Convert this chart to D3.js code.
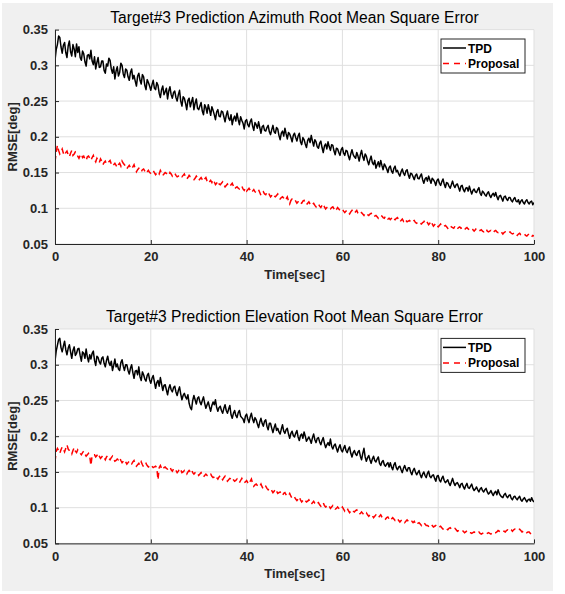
<!DOCTYPE html>
<html><head><meta charset="utf-8">
<script src="https://cdn.jsdelivr.net/npm/d3@7"></script>
<style>body{margin:0;background:#fff}svg{display:block}text{font-family:"Liberation Sans",Arial,sans-serif}</style>
</head><body><svg id="c" width="565" height="594"></svg>
<script>
const xTicks = [0, 20, 40, 60, 80, 100];
const xTickLabels = ["0", "20", "40", "60", "80", "100"];
const yTicks = [0.05, 0.1, 0.15, 0.2, 0.25, 0.3, 0.35];
const yTickLabels = ["0.05", "0.1", "0.15", "0.2", "0.25", "0.3", "0.35"];
const titles = ["Target#3 Prediction Azimuth Root Mean Square Error", "Target#3 Prediction Elevation Root Mean Square Error"];
const seriesNames = ["TPD", "Proposal"];
const xLabel = "Time[sec]";
const yLabel = "RMSE[deg]";

// sampled every 0.25 s, 0..100 s (one row = 5 s)
const azTPD = [
0.307,0.322,0.329,0.341,0.339,0.326,0.317,0.328,0.332,0.318,0.311,0.327,0.334,0.319,0.313,0.329,0.323,0.312,0.330,0.318,
0.326,0.311,0.307,0.320,0.316,0.305,0.299,0.314,0.315,0.309,0.321,0.306,0.301,0.312,0.295,0.304,0.311,0.297,0.298,0.306,
0.306,0.293,0.289,0.302,0.299,0.310,0.307,0.295,0.289,0.298,0.281,0.292,0.298,0.285,0.290,0.303,0.300,0.288,0.283,0.295,
0.293,0.284,0.279,0.290,0.295,0.281,0.286,0.278,0.271,0.285,0.289,0.279,0.274,0.287,0.284,0.272,0.266,0.280,0.276,0.271,
0.265,0.273,0.279,0.268,0.266,0.276,0.272,0.261,0.255,0.266,0.271,0.259,0.263,0.268,0.253,0.264,0.270,0.259,0.254,0.262,
0.264,0.255,0.250,0.259,0.265,0.250,0.243,0.256,0.254,0.247,0.238,0.251,0.254,0.242,0.249,0.255,0.238,0.247,0.253,0.240,
0.238,0.243,0.248,0.236,0.231,0.245,0.241,0.233,0.245,0.238,0.230,0.242,0.237,0.231,0.224,0.235,0.238,0.229,0.228,0.236,
0.235,0.228,0.221,0.230,0.236,0.226,0.223,0.231,0.217,0.225,0.229,0.222,0.233,0.224,0.217,0.228,0.223,0.219,0.211,0.222,
0.224,0.217,0.214,0.221,0.225,0.215,0.209,0.220,0.217,0.212,0.221,0.213,0.205,0.214,0.216,0.209,0.208,0.213,0.216,0.207,
0.203,0.210,0.216,0.207,0.205,0.213,0.211,0.202,0.196,0.205,0.208,0.201,0.212,0.204,0.197,0.206,0.204,0.199,0.193,0.202,
0.205,0.199,0.194,0.201,0.205,0.193,0.189,0.199,0.196,0.190,0.185,0.195,0.198,0.192,0.202,0.194,0.187,0.196,0.193,0.186,
0.184,0.191,0.194,0.185,0.178,0.187,0.190,0.183,0.193,0.186,0.181,0.189,0.188,0.180,0.175,0.184,0.183,0.178,0.174,0.182,
0.185,0.177,0.174,0.181,0.180,0.173,0.168,0.176,0.182,0.175,0.172,0.170,0.178,0.173,0.166,0.175,0.181,0.172,0.167,0.176,
0.173,0.166,0.161,0.168,0.173,0.164,0.161,0.167,0.156,0.161,0.165,0.158,0.167,0.160,0.154,0.162,0.159,0.155,0.150,0.157,
0.159,0.152,0.149,0.156,0.159,0.151,0.153,0.148,0.145,0.151,0.155,0.149,0.146,0.152,0.154,0.147,0.142,0.149,0.148,0.144,
0.140,0.146,0.148,0.142,0.141,0.145,0.148,0.140,0.135,0.141,0.143,0.138,0.145,0.140,0.135,0.142,0.140,0.137,0.132,0.139,
0.141,0.135,0.132,0.137,0.141,0.134,0.129,0.136,0.135,0.131,0.128,0.133,0.138,0.132,0.129,0.133,0.134,0.129,0.124,0.131,
0.132,0.126,0.123,0.128,0.129,0.124,0.131,0.125,0.120,0.125,0.127,0.123,0.122,0.126,0.129,0.121,0.118,0.124,0.122,0.119,
0.117,0.121,0.123,0.118,0.115,0.119,0.121,0.117,0.122,0.116,0.112,0.117,0.118,0.114,0.110,0.116,0.117,0.113,0.111,0.115,
0.115,0.111,0.109,0.113,0.115,0.110,0.109,0.112,0.106,0.110,0.112,0.108,0.106,0.110,0.112,0.108,0.106,0.109,0.110,0.105,
0.108];
const azProp = [
0.165,0.178,0.188,0.181,0.176,0.179,0.183,0.177,0.174,0.178,0.180,0.175,0.172,0.177,0.181,0.174,0.176,0.179,0.178,0.173,
0.170,0.174,0.176,0.171,0.173,0.169,0.167,0.172,0.173,0.170,0.167,0.171,0.174,0.168,0.165,0.170,0.167,0.164,0.169,0.166,
0.161,0.164,0.166,0.162,0.163,0.165,0.167,0.162,0.159,0.161,0.163,0.160,0.157,0.161,0.163,0.159,0.166,0.163,0.161,0.158,
0.155,0.158,0.160,0.157,0.155,0.158,0.161,0.155,0.151,0.154,0.156,0.153,0.151,0.154,0.155,0.152,0.149,0.151,0.153,0.150,
0.149,0.151,0.153,0.150,0.147,0.149,0.151,0.148,0.153,0.150,0.146,0.148,0.150,0.149,0.147,0.146,0.150,0.148,0.145,0.147,
0.149,0.146,0.144,0.145,0.147,0.145,0.144,0.146,0.148,0.144,0.141,0.143,0.146,0.144,0.143,0.141,0.140,0.142,0.145,0.143,
0.139,0.141,0.143,0.140,0.138,0.141,0.143,0.138,0.135,0.137,0.139,0.136,0.140,0.137,0.133,0.135,0.138,0.134,0.133,0.135,
0.137,0.133,0.130,0.132,0.134,0.132,0.130,0.133,0.135,0.131,0.127,0.129,0.130,0.128,0.127,0.129,0.131,0.127,0.125,0.128,
0.124,0.126,0.128,0.125,0.122,0.124,0.126,0.123,0.122,0.124,0.126,0.122,0.118,0.121,0.123,0.120,0.119,0.122,0.123,0.119,
0.116,0.118,0.120,0.117,0.116,0.118,0.120,0.116,0.113,0.115,0.116,0.114,0.111,0.113,0.116,0.110,0.106,0.111,0.113,0.112,
0.113,0.110,0.107,0.109,0.111,0.108,0.107,0.110,0.111,0.107,0.105,0.107,0.109,0.106,0.104,0.106,0.107,0.104,0.102,0.105,
0.106,0.103,0.101,0.104,0.106,0.102,0.099,0.101,0.102,0.100,0.099,0.101,0.102,0.099,0.096,0.098,0.101,0.099,0.097,0.098,
0.099,0.096,0.094,0.096,0.097,0.094,0.092,0.095,0.097,0.094,0.093,0.095,0.097,0.093,0.091,0.092,0.094,0.092,0.090,0.093,
0.093,0.091,0.090,0.092,0.093,0.090,0.088,0.089,0.090,0.088,0.086,0.088,0.090,0.089,0.087,0.086,0.089,0.087,0.085,0.086,
0.084,0.086,0.088,0.085,0.084,0.086,0.087,0.083,0.081,0.083,0.085,0.082,0.085,0.083,0.081,0.082,0.083,0.081,0.080,0.082,
0.083,0.080,0.079,0.081,0.081,0.079,0.078,0.080,0.081,0.084,0.083,0.080,0.077,0.079,0.082,0.078,0.075,0.077,0.079,0.076,
0.074,0.076,0.078,0.075,0.074,0.075,0.076,0.074,0.072,0.074,0.076,0.074,0.073,0.072,0.075,0.073,0.071,0.073,0.074,0.072,
0.073,0.071,0.070,0.072,0.073,0.071,0.070,0.071,0.072,0.070,0.068,0.070,0.072,0.070,0.069,0.069,0.070,0.068,0.067,0.069,
0.071,0.068,0.067,0.068,0.069,0.067,0.066,0.068,0.069,0.067,0.066,0.067,0.068,0.066,0.064,0.066,0.067,0.066,0.065,0.066,
0.067,0.065,0.064,0.065,0.066,0.064,0.062,0.064,0.065,0.063,0.063,0.064,0.064,0.062,0.061,0.063,0.064,0.062,0.060,0.062,
0.061];
const elTPD = [
0.305,0.319,0.327,0.335,0.337,0.324,0.318,0.326,0.333,0.321,0.314,0.323,0.328,0.318,0.309,0.320,0.325,0.313,0.316,0.322,
0.323,0.313,0.305,0.318,0.316,0.309,0.322,0.311,0.304,0.314,0.308,0.316,0.319,0.306,0.299,0.312,0.310,0.304,0.301,0.309,
0.311,0.302,0.297,0.306,0.312,0.303,0.299,0.305,0.292,0.299,0.308,0.297,0.301,0.294,0.292,0.303,0.307,0.298,0.292,0.300,
0.300,0.292,0.287,0.295,0.300,0.289,0.281,0.291,0.292,0.286,0.297,0.283,0.278,0.290,0.286,0.280,0.277,0.285,0.288,0.279,
0.274,0.281,0.285,0.276,0.267,0.275,0.278,0.270,0.282,0.273,0.264,0.271,0.272,0.265,0.258,0.267,0.272,0.265,0.262,0.268,
0.270,0.262,0.257,0.264,0.269,0.259,0.251,0.257,0.260,0.255,0.252,0.258,0.246,0.240,0.237,0.250,0.257,0.251,0.245,0.253,
0.255,0.248,0.244,0.250,0.255,0.246,0.239,0.244,0.248,0.241,0.235,0.243,0.248,0.244,0.251,0.240,0.235,0.240,0.242,0.236,
0.232,0.239,0.244,0.236,0.232,0.238,0.243,0.230,0.225,0.232,0.236,0.229,0.226,0.233,0.236,0.228,0.226,0.224,0.219,0.228,
0.231,0.224,0.219,0.227,0.232,0.224,0.219,0.226,0.223,0.217,0.212,0.220,0.225,0.218,0.214,0.221,0.223,0.214,0.209,0.218,
0.218,0.211,0.205,0.212,0.217,0.208,0.211,0.206,0.203,0.210,0.216,0.207,0.204,0.209,0.211,0.203,0.197,0.204,0.207,0.201,
0.199,0.204,0.208,0.199,0.194,0.201,0.203,0.197,0.206,0.200,0.193,0.196,0.199,0.195,0.190,0.198,0.203,0.195,0.191,0.197,
0.198,0.192,0.188,0.194,0.198,0.190,0.184,0.188,0.191,0.187,0.196,0.186,0.182,0.187,0.189,0.183,0.178,0.184,0.188,0.181,
0.178,0.183,0.187,0.180,0.177,0.182,0.185,0.176,0.171,0.177,0.180,0.175,0.173,0.178,0.180,0.172,0.167,0.176,0.183,0.171,
0.165,0.170,0.173,0.167,0.162,0.168,0.172,0.166,0.164,0.168,0.171,0.162,0.159,0.164,0.166,0.160,0.158,0.161,0.163,0.157,
0.163,0.157,0.153,0.160,0.163,0.156,0.153,0.157,0.158,0.153,0.149,0.155,0.159,0.154,0.151,0.156,0.156,0.150,0.146,0.152,
0.155,0.150,0.146,0.149,0.152,0.146,0.142,0.147,0.150,0.145,0.142,0.148,0.151,0.144,0.142,0.145,0.146,0.141,0.137,0.144,
0.145,0.139,0.136,0.141,0.144,0.138,0.135,0.137,0.139,0.134,0.131,0.136,0.141,0.135,0.131,0.134,0.135,0.132,0.128,0.133,
0.134,0.129,0.126,0.131,0.134,0.128,0.127,0.130,0.133,0.127,0.124,0.126,0.129,0.125,0.122,0.126,0.128,0.124,0.122,0.125,
0.127,0.122,0.119,0.121,0.124,0.120,0.117,0.121,0.123,0.118,0.125,0.120,0.117,0.115,0.114,0.118,0.120,0.116,0.114,0.117,
0.118,0.113,0.111,0.115,0.116,0.113,0.111,0.114,0.116,0.111,0.109,0.112,0.114,0.111,0.108,0.111,0.112,0.109,0.114,0.110,
0.108];
const elProp = [
0.164,0.179,0.183,0.180,0.176,0.181,0.185,0.182,0.178,0.183,0.188,0.182,0.180,0.178,0.175,0.180,0.184,0.179,0.177,0.181,
0.179,0.176,0.174,0.177,0.179,0.175,0.172,0.174,0.176,0.172,0.159,0.173,0.174,0.174,0.171,0.173,0.176,0.172,0.169,0.171,
0.173,0.170,0.167,0.171,0.173,0.169,0.167,0.170,0.172,0.168,0.165,0.166,0.168,0.167,0.170,0.166,0.163,0.165,0.167,0.164,
0.161,0.163,0.165,0.162,0.161,0.164,0.166,0.161,0.158,0.160,0.162,0.159,0.164,0.160,0.157,0.160,0.162,0.159,0.157,0.158,
0.160,0.158,0.156,0.157,0.158,0.156,0.139,0.156,0.159,0.155,0.153,0.156,0.157,0.155,0.154,0.156,0.157,0.153,0.151,0.154,
0.155,0.152,0.149,0.151,0.155,0.153,0.149,0.150,0.152,0.149,0.147,0.150,0.152,0.150,0.153,0.149,0.147,0.149,0.150,0.148,
0.145,0.147,0.149,0.146,0.143,0.145,0.147,0.145,0.144,0.146,0.147,0.144,0.142,0.143,0.145,0.142,0.140,0.143,0.145,0.142,
0.139,0.142,0.144,0.140,0.137,0.139,0.141,0.140,0.142,0.139,0.137,0.138,0.140,0.137,0.135,0.138,0.141,0.137,0.135,0.136,
0.138,0.135,0.133,0.137,0.140,0.134,0.130,0.132,0.133,0.131,0.129,0.130,0.133,0.129,0.126,0.128,0.130,0.127,0.125,0.127,
0.127,0.124,0.121,0.123,0.126,0.123,0.120,0.121,0.122,0.119,0.117,0.120,0.121,0.118,0.116,0.117,0.120,0.116,0.113,0.115,
0.115,0.112,0.110,0.112,0.115,0.111,0.108,0.110,0.112,0.110,0.108,0.109,0.111,0.108,0.105,0.107,0.109,0.106,0.104,0.106,
0.107,0.104,0.102,0.105,0.107,0.103,0.101,0.102,0.104,0.102,0.099,0.101,0.103,0.100,0.098,0.099,0.101,0.099,0.097,0.099,
0.101,0.098,0.095,0.097,0.099,0.096,0.093,0.095,0.097,0.095,0.094,0.096,0.097,0.093,0.091,0.092,0.094,0.092,0.090,0.092,
0.093,0.090,0.088,0.090,0.091,0.089,0.086,0.088,0.090,0.088,0.086,0.088,0.090,0.087,0.085,0.086,0.084,0.086,0.087,0.084,
0.082,0.084,0.086,0.084,0.082,0.083,0.085,0.082,0.080,0.082,0.083,0.081,0.079,0.081,0.083,0.081,0.079,0.080,0.081,0.079,
0.081,0.078,0.076,0.078,0.079,0.077,0.075,0.077,0.079,0.077,0.075,0.075,0.074,0.076,0.077,0.075,0.073,0.074,0.075,0.073,
0.072,0.073,0.074,0.072,0.070,0.071,0.072,0.070,0.069,0.071,0.072,0.070,0.069,0.070,0.071,0.069,0.067,0.068,0.069,0.068,
0.068,0.067,0.065,0.066,0.068,0.066,0.065,0.065,0.064,0.065,0.066,0.065,0.064,0.065,0.066,0.064,0.063,0.064,0.065,0.064,
0.063,0.064,0.065,0.064,0.063,0.065,0.066,0.065,0.065,0.066,0.068,0.067,0.066,0.067,0.068,0.067,0.066,0.068,0.069,0.068,
0.070,0.069,0.067,0.069,0.070,0.069,0.068,0.069,0.070,0.068,0.066,0.067,0.068,0.067,0.065,0.066,0.066,0.064,0.062,0.063,
0.062];
const time = azTPD.map((_, i) => i * 0.25);

const AX = "#262626";
const svg = d3.select("#c");
svg.append("rect").attr("x", 2).attr("y", 3).attr("width", 551).attr("height", 588).attr("fill", "#f0f0f0");

function panel(top, title, tpd, prop, id) {
  const x = d3.scaleLinear().domain([0, 100]).range([55, 534]);
  const y = d3.scaleLinear().domain([0.05, 0.35]).range([top + 214.4, top]);
  const g = svg.append("g");
  g.append("rect").attr("x", x(0)).attr("y", y(0.35)).attr("width", x(100) - x(0)).attr("height", y(0.05) - y(0.35)).attr("fill", "#fff");
  g.selectAll(".gx").data(xTicks).join("line")
    .attr("x1", d => x(d)).attr("x2", d => x(d)).attr("y1", y(0.05)).attr("y2", y(0.35))
    .attr("stroke", "#dfdfdf").attr("stroke-width", 1);
  g.selectAll(".gy").data(yTicks).join("line")
    .attr("x1", x(0)).attr("x2", x(100)).attr("y1", d => y(d)).attr("y2", d => y(d))
    .attr("stroke", "#dfdfdf").attr("stroke-width", 1);
  svg.append("clipPath").attr("id", id).append("rect")
    .attr("x", x(0)).attr("y", y(0.35)).attr("width", x(100) - x(0)).attr("height", y(0.05) - y(0.35));
  const line = d3.line().x((d, i) => x(time[i])).y(d => y(d));
  const lg = g.append("g").attr("clip-path", `url(#${id})`);
  lg.append("path").datum(tpd).attr("d", line).attr("fill", "none").attr("stroke", "#000").attr("stroke-width", 1.5).attr("stroke-linejoin", "round");
  lg.append("path").datum(prop).attr("d", line).attr("fill", "none").attr("stroke", "#ff0000").attr("stroke-width", 1.5).attr("stroke-dasharray", "6,4");
  const xa = g.append("g").attr("transform", `translate(0,${y(0.05)})`)
    .call(d3.axisBottom(x).tickValues(xTicks).tickFormat((d, i) => xTickLabels[i]).tickSizeInner(-4).tickSizeOuter(0).tickPadding(8));
  const ya = g.append("g").attr("transform", `translate(${x(0)},0)`)
    .call(d3.axisLeft(y).tickValues(yTicks).tickFormat((d, i) => yTickLabels[i]).tickSizeInner(-4).tickSizeOuter(0).tickPadding(7));
  [xa, ya].forEach(a => {
    a.select(".domain").attr("stroke", AX);
    a.selectAll(".tick line").attr("stroke", AX);
    a.selectAll("text").attr("fill", AX).attr("font-size", "13px").attr("font-weight", "bold").attr("font-family", '"Liberation Sans", Arial, sans-serif');
  });
  g.append("text").attr("x", (x(0) + x(100)) / 2).attr("y", top - 7).attr("text-anchor", "middle")
    .attr("font-size", "15.6px").attr("fill", "#000").text(title);
  g.append("text").attr("x", (x(0) + x(100)) / 2).attr("y", y(0.05) + 35).attr("text-anchor", "middle")
    .attr("font-size", "13px").attr("font-weight", "bold").attr("fill", AX).text(xLabel);
  g.append("text").attr("transform", `translate(17,${(y(0.05) + y(0.35)) / 2}) rotate(-90)`).attr("text-anchor", "middle")
    .attr("font-size", "13px").attr("font-weight", "bold").attr("fill", AX).text(yLabel);
  const lx = 441, ly = top + 9.4;
  const leg = g.append("g");
  leg.append("rect").attr("x", lx).attr("y", ly).attr("width", 84).attr("height", 34).attr("fill", "#fff").attr("stroke", AX).attr("stroke-width", 1);
  const cols = ["#000", "#ff0000"], dashes = [null, "6,5"];
  seriesNames.forEach((n, i) => {
    const yy = ly + 9 + i * 15.5;
    leg.append("line").attr("x1", lx + 2).attr("x2", lx + 25).attr("y1", yy).attr("y2", yy)
      .attr("stroke", cols[i]).attr("stroke-width", 1.5).attr("stroke-dasharray", dashes[i]);
    leg.append("text").attr("x", lx + 27).attr("y", yy + 4.5).attr("font-size", "12px").attr("font-weight", "bold").attr("fill", "#000").text(n);
  });
}
panel(29.6, titles[0], azTPD, azProp, "clipA");
panel(329, titles[1], elTPD, elProp, "clipB");
</script></body></html>
